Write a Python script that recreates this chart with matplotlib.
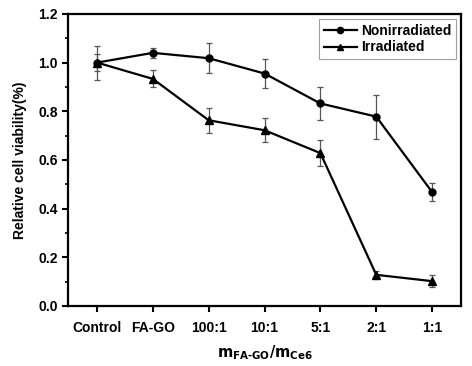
import matplotlib
matplotlib.use('Agg')
import matplotlib.pyplot as plt
from matplotlib.ticker import MultipleLocator
from matplotlib.lines import Line2D

plt.rcParams['font.family'] = ['Liberation Sans', 'DejaVu Sans']
plt.rcParams['font.weight'] = 'bold'

categories = ['Control', 'FA-GO', '100:1', '10:1', '5:1', '2:1', '1:1']
nonirr = [1.0, 1.04, 1.018, 0.955, 0.832, 0.778, 0.468]
nonirr_err = [0.07, 0.02, 0.062, 0.06, 0.068, 0.09, 0.038]
irr = [1.0, 0.933, 0.763, 0.722, 0.628, 0.128, 0.102]
irr_err = [0.035, 0.035, 0.052, 0.05, 0.052, 0.015, 0.025]

fig = plt.figure(figsize=(4.72, 3.66), dpi=100)
ax = fig.add_axes([0.144, 0.164, 0.833, 0.798])

x = list(range(len(categories)))
ax.errorbar(x, nonirr, yerr=nonirr_err, color='black', marker='o', markersize=5,
            linewidth=1.6, ecolor='#555555', elinewidth=0.9, capsize=2.5,
            capthick=0.9)
ax.errorbar(x, irr, yerr=irr_err, color='black', marker='^', markersize=5.5,
            linewidth=1.6, ecolor='#555555', elinewidth=0.9, capsize=2.5,
            capthick=0.9)

ax.set_xlim(-0.52, 6.52)
ax.set_ylim(0, 1.2)
ax.set_xticks(x)
ax.set_xticklabels(categories, fontsize=10, fontweight='bold')
ax.yaxis.set_minor_locator(MultipleLocator(0.1))
ax.set_yticks([0.0, 0.2, 0.4, 0.6, 0.8, 1.0, 1.2])
ax.set_yticklabels(['0.0', '0.2', '0.4', '0.6', '0.8', '1.0', '1.2'], fontsize=10, fontweight='bold')
ax.tick_params(axis='both', which='major', direction='out', length=4, width=1.5, top=False, right=False)
ax.tick_params(axis='y', which='minor', direction='out', length=2.5, width=1.2)
ax.tick_params(axis='x', pad=7)
for s in ax.spines.values():
    s.set_linewidth(1.6)

ax.set_ylabel('Relative cell viability(%)', fontsize=10, fontweight='bold', labelpad=8)
ax.set_xlabel(r'$\mathbf{m_{FA\text{-}GO}/m_{Ce6}}$', fontsize=10.5, labelpad=6)

handles = [Line2D([], [], color='black', marker='o', markersize=4.5, linewidth=1.6),
           Line2D([], [], color='black', marker='^', markersize=5, linewidth=1.6)]
leg = ax.legend(handles, ['Nonirradiated', 'Irradiated'], loc='upper right',
                fontsize=10, frameon=True, fancybox=False, edgecolor='#888888',
                handlelength=2.4, borderaxespad=0.4, handletextpad=0.3,
                borderpad=0.3, labelspacing=0.2)
leg.get_frame().set_linewidth(0.8)
for t in leg.get_texts():
    t.set_fontweight('bold')

fig.savefig('out.png', dpi=100)
